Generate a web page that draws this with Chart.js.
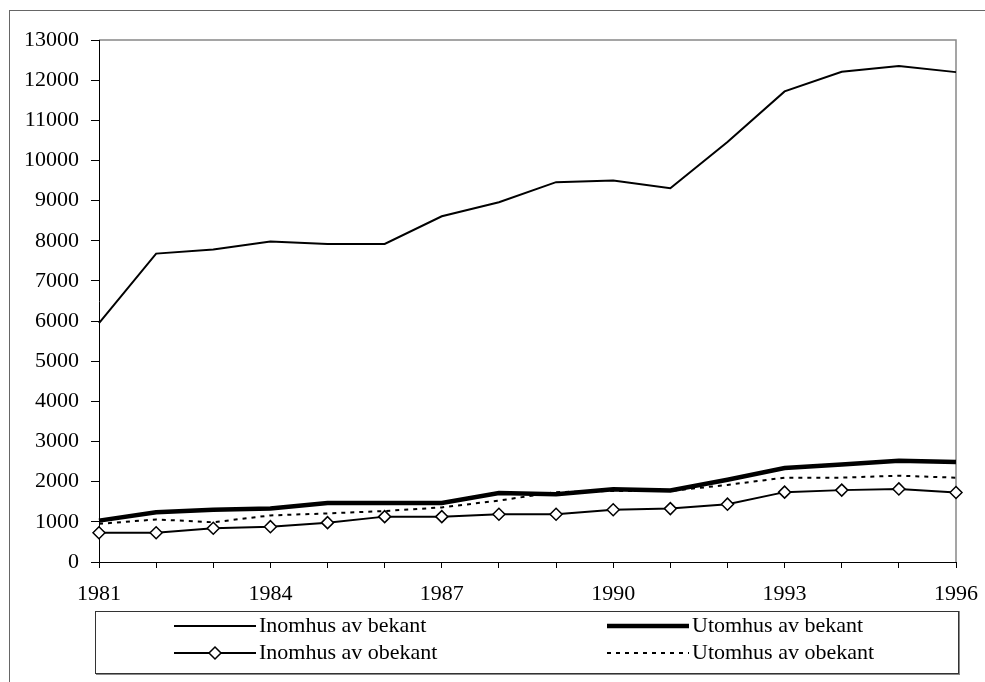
<!DOCTYPE html>
<html>
<head>
<meta charset="utf-8">
<script src="https://cdn.jsdelivr.net/npm/chart.js@4/dist/chart.umd.min.js"></script>
<style>
    html, body { margin: 0; padding: 0; background: #fff; }
    canvas { display: block; }
</style>
</head>
<body>
<canvas id="lineChart" width="985" height="682"></canvas>
<script>
const years = [
    "1981", "1982", "1983", "1984", "1985", "1986", "1987", "1988",
    "1989", "1990", "1991", "1992", "1993", "1994", "1995", "1996"
];

const inomhusBekant = [5950, 7680, 7780, 7980, 7920, 7920, 8610, 8960, 9460, 9500, 9310, 10460, 11720, 12210, 12350, 12200];
const utomhusBekant = [1030, 1240, 1300, 1330, 1470, 1470, 1470, 1720, 1690, 1810, 1780, 2050, 2340, 2430, 2520, 2490];
const inomhusObekant = [730, 730, 840, 880, 980, 1130, 1130, 1190, 1190, 1300, 1330, 1440, 1740, 1790, 1820, 1730];
const utomhusObekant = [950, 1060, 990, 1160, 1210, 1270, 1360, 1530, 1740, 1770, 1770, 1920, 2100, 2100, 2150, 2100];

const yTicks = [0, 13000, 1000];

const font = { family: "'Liberation Serif', 'Times New Roman', serif", size: 22 };

// background, outer frame and grey top/right edge of the plot
const framePlugin = {
    id: "frame",
    beforeDraw(chart) {
        const ctx = chart.ctx;
        ctx.save();
        ctx.fillStyle = "#fff";
        ctx.fillRect(0, 0, chart.width, chart.height);
        ctx.strokeStyle = "#666";
        ctx.lineWidth = 1;
        ctx.strokeRect(9.5, 10.5, 1000, 1000);
        const a = chart.chartArea;
        ctx.strokeStyle = "#888";
        ctx.lineWidth = 1.5;
        ctx.beginPath();
        ctx.moveTo(a.left, a.top);
        ctx.lineTo(a.right, a.top);
        ctx.lineTo(a.right, a.bottom);
        ctx.stroke();
        ctx.restore();
    }
};

// legend box with two columns, drawn from the dataset styles
const boxLegend = {
    id: "boxLegend",
    afterDraw(chart) {
        const ctx = chart.ctx;
        ctx.save();
        ctx.strokeStyle = "#888";
        ctx.lineWidth = 2;
        ctx.beginPath();
        ctx.moveTo(96, 674);
        ctx.lineTo(959, 674);
        ctx.lineTo(959, 611);
        ctx.stroke();
        ctx.strokeStyle = "#333";
        ctx.lineWidth = 1;
        ctx.strokeRect(95.5, 611.5, 863, 62);

        const slots = [
            { x: 174, y: 626 },
            { x: 607, y: 626 },
            { x: 174, y: 653 },
            { x: 607, y: 653 }
        ];
        chart.data.datasets.forEach((ds, i) => {
            const s = slots[i];
            ctx.strokeStyle = ds.borderColor;
            ctx.lineWidth = ds.borderWidth;
            ctx.setLineDash(ds.borderDash || []);
            ctx.beginPath();
            ctx.moveTo(s.x, s.y);
            ctx.lineTo(s.x + 82, s.y);
            ctx.stroke();
            ctx.setLineDash([]);
            if (ds.pointRadius > 0) {
                const r = ds.pointRadius;
                const cx = s.x + 41;
                ctx.fillStyle = ds.pointBackgroundColor;
                ctx.lineWidth = ds.pointBorderWidth;
                ctx.beginPath();
                ctx.moveTo(cx, s.y - r);
                ctx.lineTo(cx + r, s.y);
                ctx.lineTo(cx, s.y + r);
                ctx.lineTo(cx - r, s.y);
                ctx.closePath();
                ctx.fill();
                ctx.stroke();
            }
            ctx.fillStyle = "#000";
            ctx.font = font.size + "px " + font.family;
            ctx.textBaseline = "middle";
            ctx.textAlign = "left";
            ctx.fillText(ds.label, s.x + 85, s.y);
        });
        ctx.restore();
    }
};

new Chart(
    document.getElementById("lineChart"),
    {
        type: "line",

        data: {
            labels: years,

            datasets: [
                {
                    label: "Inomhus av bekant",
                    data: inomhusBekant,
                    borderColor: "#000",
                    borderWidth: 2,
                    pointRadius: 0,
                    tension: 0
                },
                {
                    label: "Utomhus av bekant",
                    data: utomhusBekant,
                    borderColor: "#000",
                    borderWidth: 4.5,
                    pointRadius: 0,
                    tension: 0
                },
                {
                    label: "Inomhus av obekant",
                    data: inomhusObekant,
                    borderColor: "#000",
                    borderWidth: 2,
                    pointStyle: "rectRot",
                    pointRadius: 6,
                    pointBorderWidth: 1.5,
                    pointBackgroundColor: "#fff",
                    pointBorderColor: "#000",
                    tension: 0,
                    order: -1
                },
                {
                    label: "Utomhus av obekant",
                    data: utomhusObekant,
                    borderColor: "#000",
                    borderWidth: 2,
                    borderDash: [4, 5],
                    pointRadius: 0,
                    tension: 0
                }
            ]
        },

        options: {
            responsive: false,
            animation: false,
            devicePixelRatio: 1,
            layout: {
                padding: { left: 0, top: 40, right: 29, bottom: 80 }
            },
            plugins: {
                legend: { display: false },
                tooltip: { enabled: false }
            },
            scales: {
                x: {
                    offset: false,
                    grid: {
                        drawOnChartArea: false,
                        tickLength: 6,
                        color: "#000"
                    },
                    border: { color: "#000", width: 1 },
                    ticks: {
                        autoSkip: false,
                        maxRotation: 0,
                        padding: 13,
                        color: "#000",
                        font: font,
                        callback: function (value, index) {
                            return index % 3 === 0 ? years[index] : "";
                        }
                    },
                    afterFit: function (scale) {
                        scale.height = 40;
                        scale.paddingLeft = 0;
                        scale.paddingRight = 0;
                    }
                },
                y: {
                    min: yTicks[0],
                    max: yTicks[1],
                    grid: {
                        drawOnChartArea: false,
                        tickLength: 8,
                        color: "#000"
                    },
                    border: { color: "#000", width: 1 },
                    ticks: {
                        stepSize: yTicks[2],
                        padding: 12,
                        color: "#000",
                        font: font,
                        callback: function (value) {
                            return String(value);
                        }
                    },
                    afterFit: function (scale) {
                        scale.width = 99;
                        scale.paddingTop = 0;
                        scale.paddingBottom = 0;
                    }
                }
            }
        },

        plugins: [framePlugin, boxLegend]
    }
);
</script>
</body>
</html>
